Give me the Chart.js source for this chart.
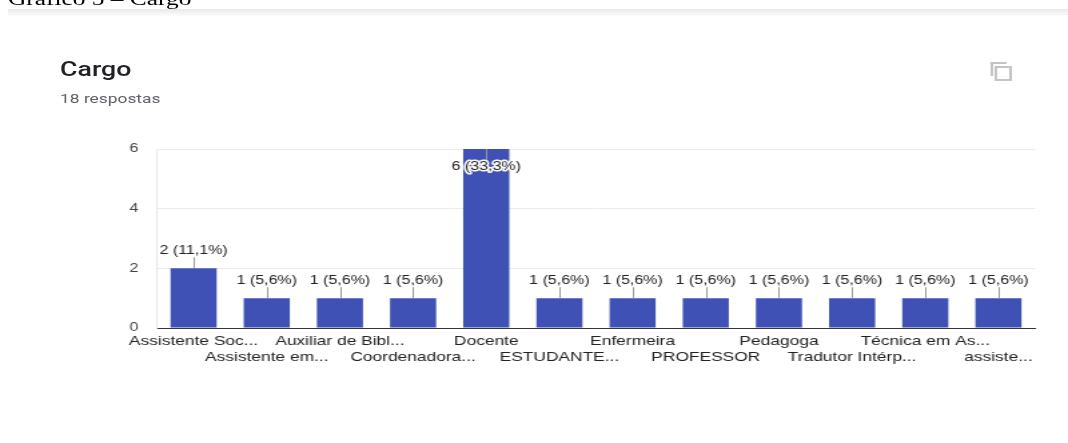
<!DOCTYPE html>
<html>
<head>
<meta charset="utf-8">
<script src="https://cdn.jsdelivr.net/npm/chart.js@4/dist/chart.umd.min.js"></script>
<style>
  html, body { margin: 0; padding: 0; background: #fff; overflow: hidden; }
  #page {
    position: absolute; left: 0; top: 0; width: 800px; height: 443px;
    transform: scaleX(1.335); transform-origin: 0 0;
  }
  #caption {
    position: absolute; left: 6px; top: -11px; white-space: nowrap;
    font: 19px/19px "Liberation Serif", "Times New Roman", serif; color: #000;
  }
  #strip {
    position: absolute; left: 6px; right: 0; top: 9px; height: 8px;
    background: linear-gradient(#e9e9e9, #fff);
  }
  #title {
    position: absolute; left: 45px; top: 57px;
    font: 500 20px Roboto, Arial, sans-serif; color: #202124;
  }
  #count {
    position: absolute; left: 45px; top: 91px;
    font: 13px Roboto, Arial, sans-serif; color: #5f6368;
  }
  .cp1 { position: absolute; left: 742px; top: 62px; width: 10px; height: 12px;
         border-left: 2px solid #c4c4c4; border-top: 2px solid #c4c4c4; }
  .cp2 { position: absolute; left: 744.5px; top: 65.5px; width: 9px; height: 11px;
         border: 2px solid #c4c4c4; background: #fff; }
  #chart { position: absolute; left: 0; top: 0; }
</style>
</head>
<body>
<div id="page">
  <div id="caption">Gráfico 5 – Cargo</div>
  <div id="strip"></div>
  <div id="title">Cargo</div>
  <div id="count">18 respostas</div>
  <div class="cp1"></div><div class="cp2"></div>
  <canvas id="chart" width="800" height="443"></canvas>
</div>
<script>
const categories = [
  'Assistente Soc...', 'Assistente em...', 'Auxiliar de Bibl...', 'Coordenadora...',
  'Docente', 'ESTUDANTE...', 'Enfermeira', 'PROFESSOR',
  'Pedagoga', 'Tradutor Intérp...', 'Técnica em As...', 'assiste...'
];
const respostas = [2, 1, 1, 1, 6, 1, 1, 1, 1, 1, 1, 1];
const yTicks = [0, 2, 4, 6];
const total = respostas.reduce((a, b) => a + b, 0);

// staggered axis labels: even index on first row, odd on second
const axisLabels = categories.map((c, i) => i % 2 === 0 ? [c, ''] : ['', c]);

const annotations = {
  id: 'annotations',
  afterDatasetsDraw(chart) {
    const ctx = chart.ctx;
    const meta = chart.getDatasetMeta(0);
    const area = chart.chartArea;
    ctx.save();
    ctx.font = '12px Arial, "Liberation Sans", sans-serif';
    ctx.textAlign = 'center';
    ctx.textBaseline = 'middle';
    meta.data.forEach((bar, i) => {
      const v = respostas[i];
      const txt = v + ' (' + (v / total * 100).toFixed(1).replace('.', ',') + '%)';
      const inside = bar.y - 24 < area.top;
      const ty = inside ? bar.y + 18 : bar.y - 17.5;
      const ly = inside ? bar.y + 12 : bar.y - 11;
      ctx.strokeStyle = '#999';
      ctx.lineWidth = 1;
      ctx.beginPath();
      ctx.moveTo(Math.round(bar.x) + 0.5, bar.y);
      ctx.lineTo(Math.round(bar.x) + 0.5, ly);
      ctx.stroke();
      ctx.lineJoin = 'round';
      ctx.lineWidth = 3;
      ctx.strokeStyle = '#fff';
      ctx.strokeText(txt, bar.x, ty);
      ctx.fillStyle = '#222';
      ctx.fillText(txt, bar.x, ty);
    });
    ctx.restore();
  }
};

new Chart(document.getElementById('chart'), {
  type: 'bar',
  data: {
    labels: axisLabels,
    datasets: [{
      data: respostas,
      backgroundColor: '#3f51b5',
      borderWidth: 0,
      categoryPercentage: 1,
      barPercentage: 0.63
    }]
  },
  options: {
    responsive: false,
    animation: false,
    events: [],
    layout: { padding: { top: 149, left: 0, right: 24.7, bottom: 0 } },
    plugins: { legend: { display: false }, tooltip: { enabled: false } },
    scales: {
      x: {
        grid: { display: false, drawTicks: false },
        border: { display: true, color: '#333', width: 1 },
        ticks: {
          autoSkip: false, maxRotation: 0, minRotation: 0, padding: 5,
          color: '#222',
          font: { family: 'Arial, "Liberation Sans", sans-serif', size: 13, lineHeight: 1.23 }
        },
        afterFit(scale) { scale.height = 115; }
      },
      y: {
        min: 0, max: 6,
        afterBuildTicks(scale) { scale.ticks = yTicks.map(v => ({ value: v })); },
        grid: {
          drawTicks: false,
          color: ctx => ctx.tick && ctx.tick.value === 0 ? '#333' : '#ebebeb'
        },
        border: { display: true, color: '#e6e6e6' },
        ticks: {
          padding: 14, color: '#444',
          font: { family: 'Arial, "Liberation Sans", sans-serif', size: 12 }
        },
        afterFit(scale) { scale.width = 117.6; }
      }
    }
  },
  plugins: [annotations]
});
</script>
</body>
</html>
